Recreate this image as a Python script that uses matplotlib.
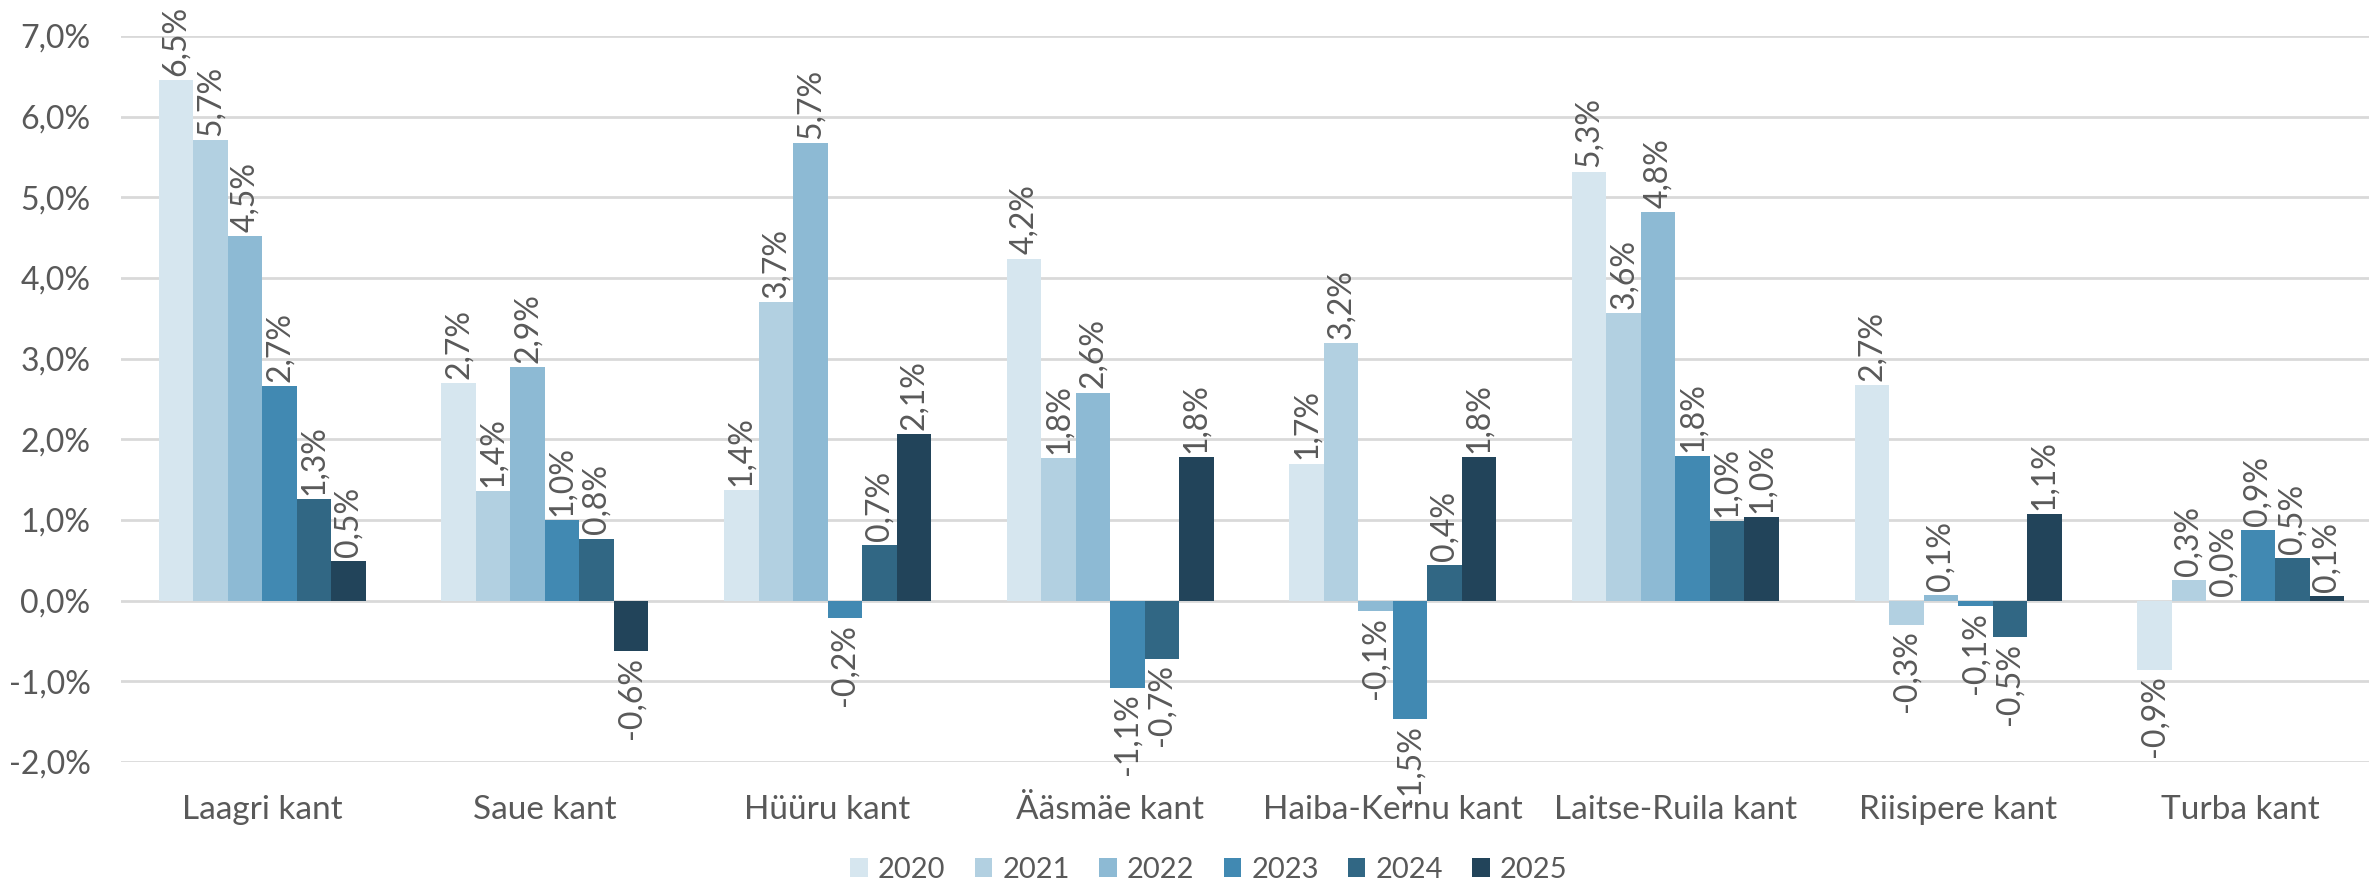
import matplotlib.pyplot as plt
import numpy as np
from matplotlib.ticker import FuncFormatter

plt.rcParams['font.family'] = ['Lato', 'DejaVu Sans']

categories = ['Laagri kant', 'Saue kant', 'Hüüru kant', 'Ääsmäe kant',
              'Haiba-Kernu kant', 'Laitse-Ruila kant', 'Riisipere kant', 'Turba kant']
years = ['2020', '2021', '2022', '2023', '2024', '2025']

# bar heights in %
v2020 = [6.45, 2.70, 1.37, 4.24, 1.70, 5.32, 2.67, -0.86]
v2021 = [5.71, 1.36, 3.70, 1.77, 3.19, 3.57, -0.30, 0.26]
v2022 = [4.52, 2.90, 5.67, 2.58, -0.13, 4.82, 0.07, 0.00]
v2023 = [2.66, 1.00, -0.22, -1.08, -1.47, 1.79, -0.07, 0.87]
v2024 = [1.26, 0.77, 0.69, -0.72, 0.44, 0.99, -0.45, 0.53]
v2025 = [0.49, -0.63, 2.06, 1.78, 1.78, 1.04, 1.07, 0.06]

series = [v2020, v2021, v2022, v2023, v2024, v2025]
colors = ['#d6e6ef', '#b2d0e1', '#8dbad4', '#4189b2', '#316784', '#22445a']
text_color = '#595959'

fig = plt.figure(figsize=(23.69, 8.86), dpi=100)
ax = fig.add_axes([121 / 2369, 1 - 762 / 886, 2261 / 2369, 726 / 886])

x = np.arange(len(categories))
bw = 0.122
for i, (vals, col, yr) in enumerate(zip(series, colors, years)):
    pos = x + (i - 2.5) * bw
    ax.bar(pos, vals, bw, color=col, label=yr, zorder=3, edgecolor='none')
    for xp, v in zip(pos, vals):
        txt = f'{v:.1f}%'.replace('.', ',')
        if v < 0:
            ax.annotate(txt, (xp, v), xytext=(0, -4), textcoords='offset points',
                        rotation=90, ha='center', va='top', fontsize=23, color=text_color)
        else:
            ax.annotate(txt, (xp, v), xytext=(0, 3), textcoords='offset points',
                        rotation=90, ha='center', va='bottom', fontsize=23, color=text_color)

ax.set_xlim(-0.5, len(categories) - 0.5)
ax.set_ylim(-2, 7)
ax.set_yticks(np.arange(-2, 8, 1))
ax.yaxis.set_major_formatter(FuncFormatter(lambda v, p: f'{v:.1f}%'.replace('.', ',')))
ax.set_xticks(x)
ax.set_xticklabels(categories)
ax.tick_params(axis='both', length=0, labelcolor=text_color)
ax.tick_params(axis='y', pad=22, labelsize=23)
ax.tick_params(axis='x', pad=24, labelsize=24)
ax.grid(axis='y', color='#d9d9d9', linewidth=2, zorder=0)
for s in ax.spines.values():
    s.set_visible(False)

ax.legend(loc='center', bbox_to_anchor=((1209 - 121) / 2261, (762 - 870) / 726), ncol=6, frameon=False,
          fontsize=21, handlelength=0.6, handleheight=0.6, handletextpad=0.35, columnspacing=1.0,
          labelcolor=text_color)

fig.savefig('out.png', dpi=100)
